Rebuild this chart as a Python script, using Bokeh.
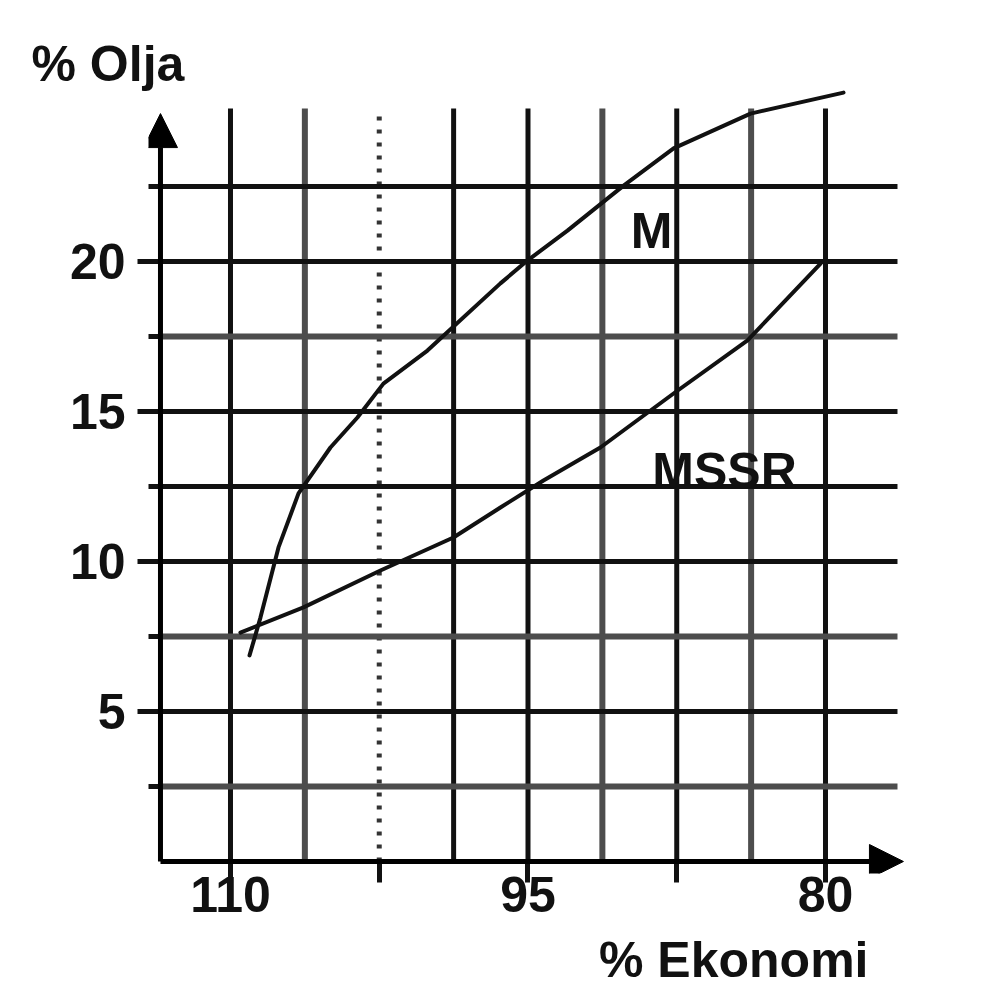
from bokeh.plotting import figure
from bokeh.models import Range1d, FixedTicker, Label, Arrow, NormalHead, Title
from bokeh.embed import file_html
from bokeh.resources import INLINE

# ---------------- data ----------------
x_ticks = [110, 102.5, 95, 87.5, 80]
x_tick_labels = ["110", "", "95", "", "80"]
y_ticks = [5, 10, 15, 20]
y_tick_labels = ["5", "10", "15", "20"]
y_minor = [2.5, 7.5, 12.5, 17.5, 22.5]

grid_x = [110, 106.25, 98.75, 95, 91.25, 87.5, 83.75, 80]
grid_x_dotted = [102.5]
grid_y = [2.5, 5, 7.5, 10, 12.5, 15, 17.5, 20, 22.5]

m_x = [109.04, 108.49, 107.58, 106.57, 104.96, 103.60, 102.29, 100.07,
       96.39, 95.03, 93.01, 90.18, 87.66, 83.78, 79.09]
m_y = [6.87, 8.13, 10.47, 12.27, 13.80, 14.80, 15.93, 17.03,
       19.27, 20.03, 21.03, 22.53, 23.77, 24.93, 25.63]

mssr_x = [109.5, 106.32, 102.44, 98.76, 96.39, 94.22, 91.35, 87.66, 83.93, 80.25]
mssr_y = [7.63, 8.47, 9.70, 10.80, 11.80, 12.70, 13.80, 15.60, 17.37, 19.93]

# ---------------- layout constants ----------------
AX_X = 113.53      # position of the y axis (data x)
X_END = 76.37      # right end of horizontal grid lines
X_TIP = 76.07      # x-axis arrow tip
Y_TOP = 25.1       # top of vertical grid lines
Y_TIP = 24.93      # y-axis arrow tip
FONT = "Liberation Sans"
INK = "#111111"
SOFT = "#4d4d4d"
soft_x = {106.25, 91.25, 83.75}
soft_y = {2.5, 7.5, 17.5}


def key(v):
    return int(v) if float(v).is_integer() else v


p = figure(width=984, height=1003,
           x_range=Range1d(114.134, 75.714), y_range=Range1d(-0.4, 26.033),
           output_backend="svg", toolbar_location=None,
           min_border_left=148, min_border_right=74,
           min_border_top=80, min_border_bottom=130)
p.outline_line_color = None
p.grid.visible = False
p.background_fill_color = "white"
p.border_fill_color = "white"

# titles used as the two axis captions
p.title = Title(text="% Olja", align="left", offset=-117, standoff=-22,
                text_font=FONT, text_font_style="bold", text_font_size="50px",
                text_color=INK)
p.add_layout(Title(text="% Ekonomi", align="right", offset=42, standoff=30,
                   text_font=FONT, text_font_style="bold", text_font_size="50px",
                   text_color=INK), "below")

# x axis
xa = p.xaxis[0]
xa.ticker = FixedTicker(ticks=x_ticks, minor_ticks=[])
xa.major_label_overrides = {key(t): l for t, l in zip(x_ticks, x_tick_labels)}
xa.axis_line_color = None
xa.major_tick_line_color = INK
xa.major_tick_line_width = 5
xa.major_tick_in = 12
xa.major_tick_out = 9
xa.minor_tick_line_color = None
xa.major_label_text_font = FONT
xa.major_label_text_font_style = "bold"
xa.major_label_text_font_size = "50px"
xa.major_label_text_color = INK
xa.major_label_standoff = -6

# y axis
ya = p.yaxis[0]
ya.ticker = FixedTicker(ticks=y_ticks, minor_ticks=y_minor)
ya.major_label_overrides = {key(t): l for t, l in zip(y_ticks, y_tick_labels)}
ya.axis_line_color = None
ya.major_tick_line_color = INK
ya.major_tick_line_width = 5
ya.major_tick_in = 12
ya.major_tick_out = 11
ya.minor_tick_line_color = INK
ya.minor_tick_line_width = 5
ya.minor_tick_in = 12
ya.minor_tick_out = 0
ya.major_label_text_font = FONT
ya.major_label_text_font_style = "bold"
ya.major_label_text_font_size = "50px"
ya.major_label_text_color = INK
ya.major_label_standoff = 12

# grid lines
for gx in grid_x:
    soft = gx in soft_x
    p.segment(x0=[gx], y0=[0], x1=[gx], y1=[Y_TOP],
              line_color=SOFT if soft else INK, line_width=6 if soft else 5)
for gx in grid_x_dotted:
    p.segment(x0=[gx], y0=[0], x1=[gx], y1=[Y_TOP],
              line_color="#333333", line_width=5, line_dash="4 9")
for gy in grid_y:
    soft = gy in soft_y
    p.segment(x0=[AX_X], y0=[gy], x1=[X_END], y1=[gy],
              line_color=SOFT if soft else INK, line_width=6 if soft else 5)

# curves
p.line(m_x, m_y, line_color=INK, line_width=4, line_join="round", line_cap="round")
p.line(mssr_x, mssr_y, line_color=INK, line_width=4, line_join="round", line_cap="round")

# axes with arrows
p.add_layout(Arrow(x_start=AX_X, y_start=0, x_end=AX_X, y_end=Y_TIP,
                   line_color="black", line_width=5,
                   end=NormalHead(size=34, fill_color="black", line_color="black", line_width=1)))
p.add_layout(Arrow(x_start=AX_X, y_start=0, x_end=X_TIP, y_end=0,
                   line_color="black", line_width=5,
                   end=NormalHead(size=34, fill_color="black", line_color="black", line_width=1)))

# curve labels
def lab(x, y, t):
    p.add_layout(Label(x=x, y=y, text=t, text_font=FONT, text_font_style="bold",
                       text_font_size="50px", text_color=INK,
                       text_align="center", text_baseline="alphabetic"))

lab(88.77, 21.0, "M")
lab(85.09, 13.0, "MSSR")

open("out.html", "w").write(file_html(p, INLINE))
